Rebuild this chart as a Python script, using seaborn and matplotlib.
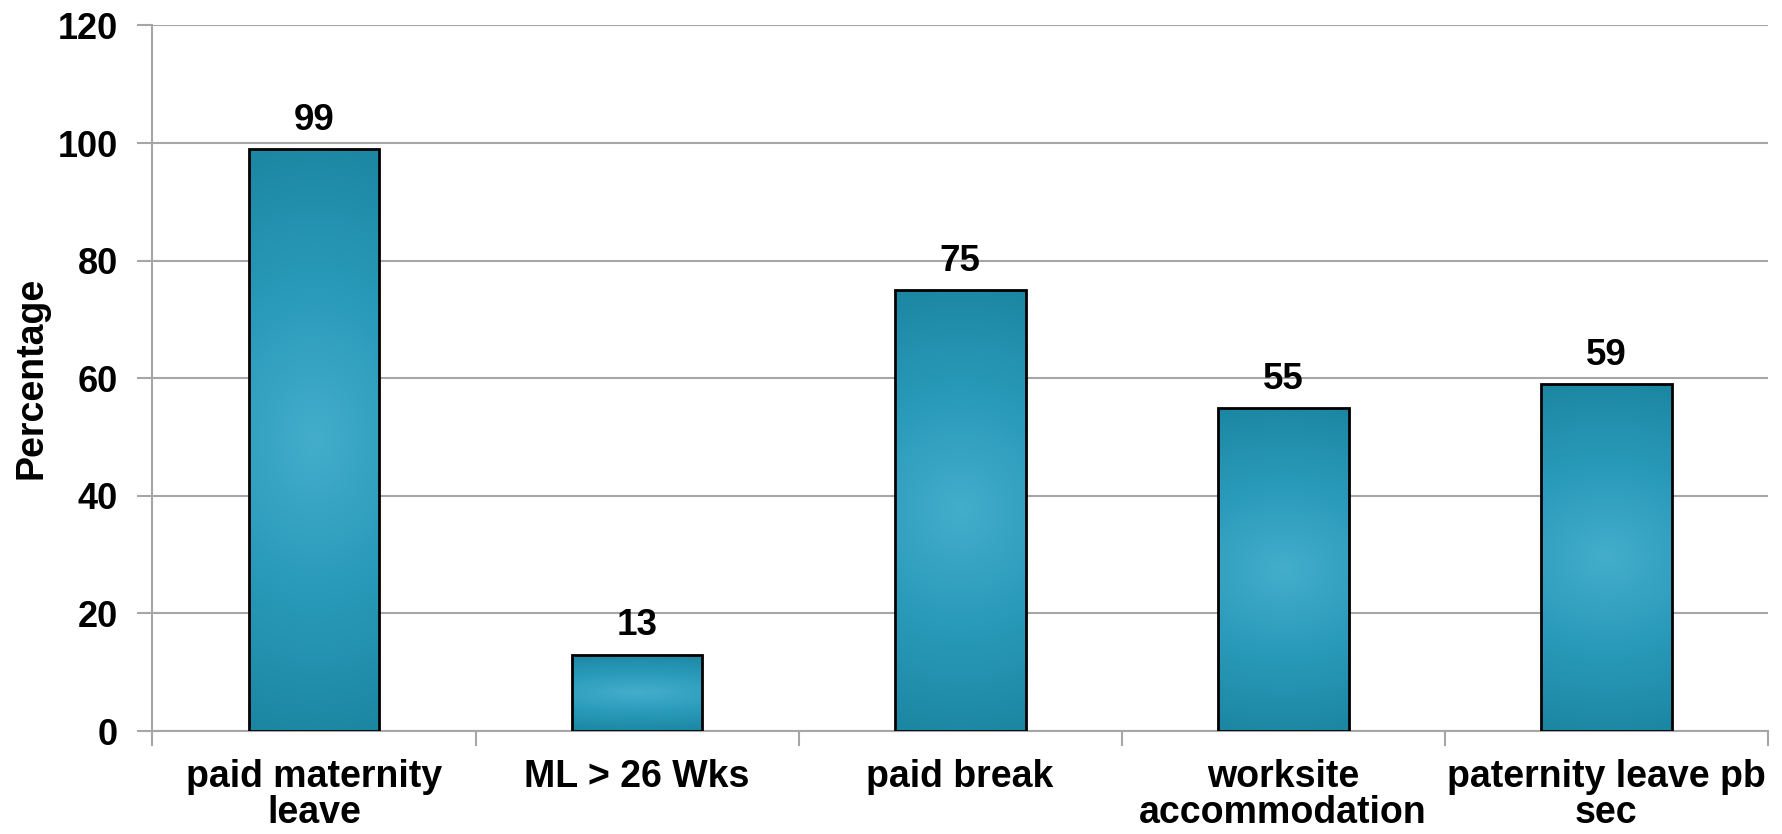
import numpy as np
import pandas as pd
import seaborn as sns
import matplotlib.pyplot as plt
from matplotlib.colors import LinearSegmentedColormap

categories = ['paid maternity\nleave', 'ML > 26 Wks', 'paid break',
              'worksite\naccommodation', 'paternity leave pb\nsec']
percentages = [99, 13, 75, 55, 59]
y_ticks = [0, 20, 40, 60, 80, 100, 120]

df = pd.DataFrame({'category': categories, 'percentage': percentages})

sns.set_style('white')
plt.rcParams['font.family'] = ['Liberation Sans', 'DejaVu Sans']
plt.rcParams['font.weight'] = 'bold'
plt.rcParams['text.color'] = 'black'
plt.rcParams['axes.labelcolor'] = 'black'
plt.rcParams['xtick.labelcolor'] = 'black'
plt.rcParams['ytick.labelcolor'] = 'black'

fig = plt.figure(figsize=(17.83, 8.34), dpi=100)
ax = fig.add_axes([0.0855, 0.1235, 0.906, 0.846])

sns.barplot(df, x='category', y='percentage', color='#2d9bbd',
            width=0.405, edgecolor='black', linewidth=2, ax=ax, zorder=3)

# gradient fill for each bar, clipped to the bar shape
cmap = LinearSegmentedColormap.from_list('teal', ['#44adcc', '#2a9aba', '#1b86a2'])
yy, xx = np.mgrid[-1:1:200j, -1:1:60j]
grad = np.sqrt((xx * 0.3) ** 2 + (yy * 0.95) ** 2)
for bar in ax.patches:
    x0, y0 = bar.get_x(), bar.get_y()
    w, h = bar.get_width(), bar.get_height()
    im = ax.imshow(grad, cmap=cmap, vmin=0, vmax=1, aspect='auto',
                   extent=[x0, x0 + w, y0, y0 + h], zorder=3.5,
                   interpolation='bicubic')
    im.set_clip_path(bar)
    bar.set_facecolor('none')
    bar.set_zorder(4)

for i, v in enumerate(percentages):
    ax.annotate(str(v), (i, v), xytext=(0, 8), textcoords='offset points',
                ha='center', va='bottom', fontsize=26.5, fontweight='bold')

ax.set_xlim(-0.5, 4.5)
ax.set_ylim(0, 120)
ax.set_yticks(y_ticks)
ax.set_yticklabels([str(t) for t in y_ticks], fontsize=26, fontweight='bold')
ax.yaxis.grid(True, color='#a6a6a6', linewidth=1.5, zorder=0)
ax.set_axisbelow(True)

ax.set_xticks(np.arange(-0.5, 5, 1))
ax.set_xticklabels([''] * 6)
ax.set_xticks(range(len(categories)), minor=True)
ax.set_xticklabels(categories, minor=True, fontsize=27, fontweight='bold',
                   linespacing=1.0)
ax.tick_params(axis='x', which='major', length=11, width=1.5,
               color='#a6a6a6', direction='out', bottom=True)
ax.tick_params(axis='x', which='minor', length=0, pad=20)
ax.tick_params(axis='y', length=11, width=1.5, color='#a6a6a6',
               direction='out', left=True, pad=14)

ax.set_xlabel('')
ax.set_ylabel('Percentage', fontsize=27, fontweight='bold', labelpad=6)

for s in ['top', 'right']:
    ax.spines[s].set_visible(False)
for s in ['left', 'bottom']:
    ax.spines[s].set_color('#a6a6a6')
    ax.spines[s].set_linewidth(1.5)

fig.savefig('out.png', dpi=100)
